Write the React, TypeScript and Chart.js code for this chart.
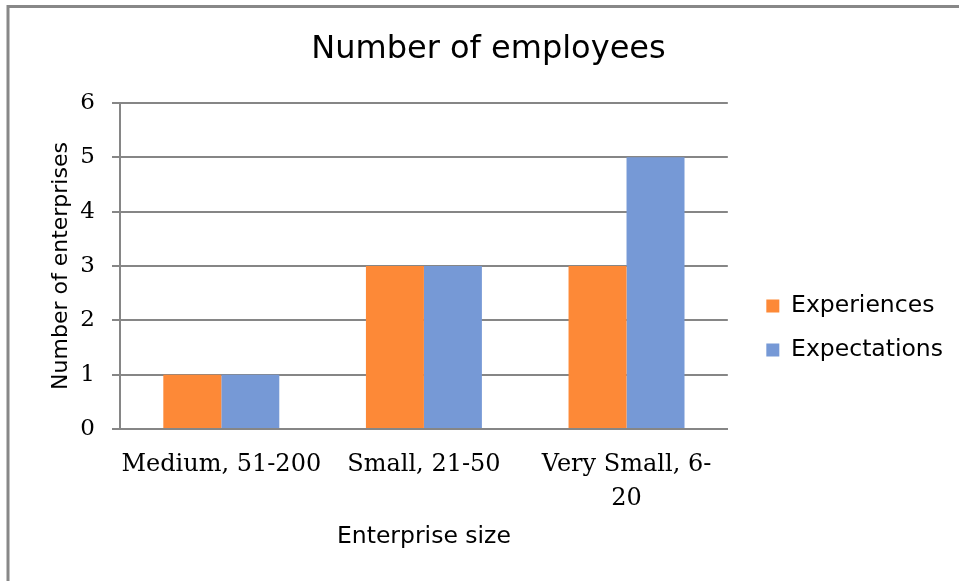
import React, { useEffect, useRef } from "react";
import { Chart, registerables } from "chart.js";

Chart.register(...registerables);

const categories: (string | string[])[] = ["Medium, 51-200", "Small, 21-50", ["Very Small, 6-", "20"]];
const experiences: number[] = [1, 3, 3];
const expectations: number[] = [1, 3, 5];
const yTicks: number[] = [0, 1, 2, 3, 4, 5, 6];
const seriesNames: string[] = ["Experiences", "Expectations"];
const chartTitle = "Number of employees";
const xTitle = "Enterprise size";
const yTitle = "Number of enterprises";

const ORANGE = "#FD8937";
const BLUE = "#7699D6";
const GRID = "#868686";

const framePlugin = {
  id: "frame",
  beforeDraw(chart: any) {
    const ctx = chart.ctx;
    ctx.save();
    ctx.fillStyle = "#ffffff";
    ctx.fillRect(0, 0, chart.width, chart.height);
    ctx.strokeStyle = "#888888";
    ctx.lineWidth = 3;
    ctx.strokeRect(8, 6.5, chart.width + 40, chart.height + 40);
    ctx.restore();
  },
};

const legendShift = {
  id: "legendShift",
  afterLayout(chart: any) {
    const lg = chart.legend;
    if (!lg) return;
    const dx = 18;
    const dy = 37.5;
    lg.left += dx;
    lg.right += dx;
    lg.top += dy;
    lg.bottom += dy;
  },
};

export default function App() {
  const ref = useRef<HTMLCanvasElement | null>(null);

  useEffect(() => {
    if (!ref.current) return;
    Chart.defaults.font.family = "DejaVu Sans";
    const chart = new Chart(ref.current, {
      type: "bar",
      data: {
        labels: categories,
        datasets: [
          {
            label: seriesNames[0],
            data: experiences,
            backgroundColor: ORANGE,
            borderWidth: 0,
            barPercentage: 1,
            categoryPercentage: 0.5724,
          },
          {
            label: seriesNames[1],
            data: expectations,
            backgroundColor: BLUE,
            borderWidth: 0,
            barPercentage: 1,
            categoryPercentage: 0.5724,
          },
        ],
      },
      options: {
        responsive: false,
        animation: false,
        devicePixelRatio: 1,
        layout: { padding: { left: 42, right: 24, top: 0, bottom: 0 } },
        plugins: {
          title: {
            display: true,
            text: chartTitle,
            color: "#000",
            font: { family: "DejaVu Sans", size: 32, weight: "normal", lineHeight: 1.2 },
            padding: { top: 30.8, bottom: 33.8 },
          },
          legend: {
            position: "right",
            labels: {
              color: "#000",
              font: { family: "DejaVu Sans", size: 23.5 },
              boxWidth: 13,
              boxHeight: 13,
              padding: 20.5,
            },
          },
          tooltip: { enabled: false },
        },
        scales: {
          x: {
            grid: { display: false, drawTicks: false },
            border: { display: true, color: GRID, width: 2 },
            ticks: {
              color: "#000",
              font: { family: "DejaVu Serif", size: 24, lineHeight: 1.4 },
              padding: 19,
              maxRotation: 0,
              autoSkip: false,
            },
            title: {
              display: true,
              text: xTitle,
              color: "#000",
              font: { family: "DejaVu Sans", size: 23.5, lineHeight: 1.2 },
              padding: { top: 0, bottom: 30.4 },
            },
            afterFit: (s: any) => {
              s.height = 152;
            },
          },
          y: {
            min: 0,
            max: 6,
            afterBuildTicks: (s: any) => {
              s.ticks = yTicks.map((v) => ({ value: v }));
            },
            ticks: {
              color: "#000",
              font: { family: "DejaVu Serif", size: 23 },
              padding: 17,
            },
            grid: { color: GRID, lineWidth: 2, tickLength: 8, drawTicks: true },
            border: { display: true, color: GRID, width: 2 },
            title: {
              display: true,
              text: yTitle,
              color: "#000",
              font: { family: "DejaVu Sans", size: 22, lineHeight: 1.2 },
              padding: { top: 5.8, bottom: 0 },
            },
            afterFit: (s: any) => {
              s.width = 78;
            },
          },
        },
      },
      plugins: [framePlugin, legendShift],
    } as any);
    return () => chart.destroy();
  }, []);

  return (
    <div style={{ position: "fixed", left: 0, top: 0, width: 959, height: 581, background: "#fff" }}>
      <canvas ref={ref} width={959} height={581} style={{ display: "block", width: 959, height: 581 }} />
    </div>
  );
}
